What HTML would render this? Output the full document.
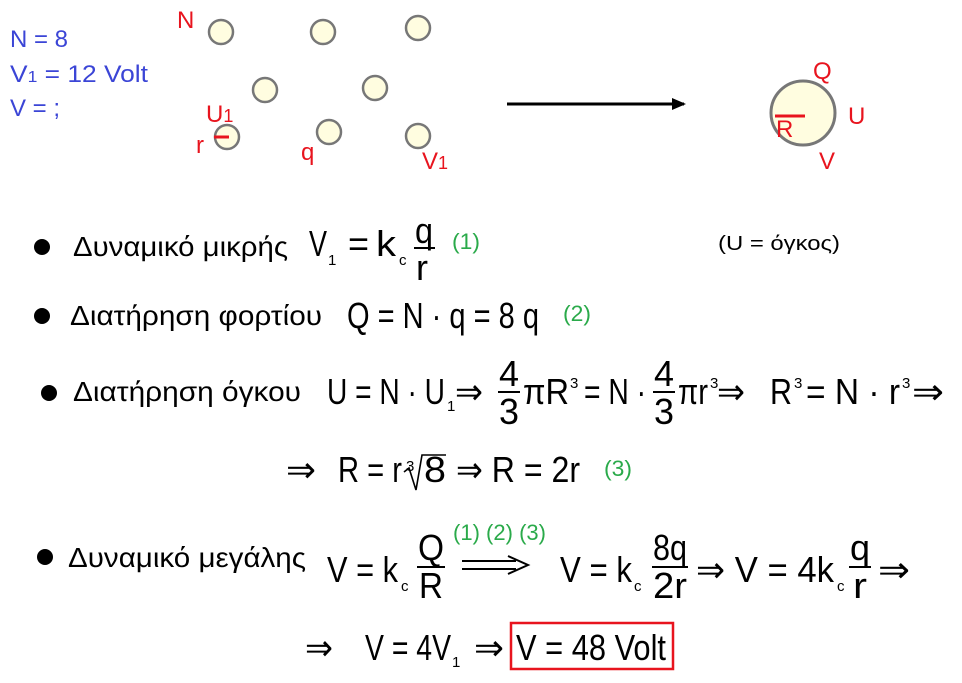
<!DOCTYPE html>
<html><head><meta charset="utf-8"><style>
html,body{margin:0;padding:0;background:#fff;}
svg{display:block;}
text{font-family:"Liberation Sans",sans-serif;}
.b{fill:#3b45d6;font-size:24px;}
.r{fill:#e8141e;font-size:24px;}
.t{fill:#000;font-size:28px;}
.m{fill:#000;font-size:36px;}
.s{fill:#000;font-size:15px;}
.g{fill:#2aaa4a;font-size:22px;}
</style></head><body>
<svg width="962" height="683" viewBox="0 0 962 683" xmlns="http://www.w3.org/2000/svg">
<defs><marker id="ah" markerWidth="14" markerHeight="12" refX="12" refY="6" orient="auto" markerUnits="userSpaceOnUse"><path d="M0,0 L14,6 L0,12 z" fill="#000"/></marker></defs>
<text class="b" x="10" y="47">N = 8</text>
<text class="b" x="10" y="82" textLength="138" lengthAdjust="spacingAndGlyphs">V<tspan font-size="16">1</tspan> = 12 Volt</text>
<text class="b" x="10" y="116">V = ;</text>
<g fill="#fffde0" stroke="#777" stroke-width="2.5">
<circle cx="221" cy="32" r="12"/><circle cx="323" cy="32" r="12"/><circle cx="418" cy="28" r="12"/>
<circle cx="265" cy="90" r="12"/><circle cx="375" cy="88" r="12"/>
<circle cx="227" cy="137" r="12"/><circle cx="329" cy="132" r="12"/><circle cx="418" cy="136" r="12"/>
<circle cx="803" cy="113" r="32" stroke-width="3"/>
</g>
<line x1="214" y1="137" x2="229" y2="137" stroke="#e8141e" stroke-width="3"/>
<line x1="775" y1="116" x2="805" y2="116" stroke="#e8141e" stroke-width="3"/>
<text class="r" x="177" y="28">N</text>
<text class="r" x="206" y="122">U<tspan font-size="18">1</tspan></text>
<text class="r" x="196" y="153">r</text>
<text class="r" x="301" y="160">q</text>
<text class="r" x="422" y="169">V<tspan font-size="18">1</tspan></text>
<text class="r" x="813" y="79">Q</text>
<text class="r" x="848" y="124">U</text>
<text class="r" x="819" y="169">V</text>
<text class="r" x="776" y="137">R</text>
<line x1="507" y1="104" x2="684" y2="104" stroke="#000" stroke-width="3" marker-end="url(#ah)"/>

<circle cx="42" cy="247" r="8"/>
<text class="t" x="73" y="256" textLength="215" lengthAdjust="spacingAndGlyphs">Δυναμικό μικρής</text>
<text class="m" x="309" y="256" textLength="18" lengthAdjust="spacingAndGlyphs">V</text><text class="s" x="328" y="265">1</text>
<text class="m" x="348" y="256" textLength="21" lengthAdjust="spacingAndGlyphs">=</text><text class="m" x="376" y="256" textLength="20" lengthAdjust="spacingAndGlyphs">k</text><text class="s" x="399" y="265">c</text>
<text class="m" x="415" y="243" textLength="18" lengthAdjust="spacingAndGlyphs">q</text><line x1="414" y1="248" x2="435" y2="248" stroke="#000" stroke-width="2"/><text class="m" x="416" y="280" textLength="12" lengthAdjust="spacingAndGlyphs">r</text>
<text class="g" x="452" y="249" textLength="28" lengthAdjust="spacingAndGlyphs">(1)</text>
<text fill="#000" font-size="20" x="718" y="250" textLength="122" lengthAdjust="spacingAndGlyphs">(U = όγκος)</text>

<circle cx="42" cy="316" r="8"/>
<text class="t" x="70" y="325" textLength="252" lengthAdjust="spacingAndGlyphs">Διατήρηση φορτίου</text>
<text class="m" x="347" y="328" textLength="192" lengthAdjust="spacingAndGlyphs">Q = N · q = 8 q</text>
<text class="g" x="563" y="321" textLength="28" lengthAdjust="spacingAndGlyphs">(2)</text>

<circle cx="49" cy="393" r="8"/>
<text class="t" x="73" y="401" textLength="228" lengthAdjust="spacingAndGlyphs">Διατήρηση όγκου</text>
<text class="m" x="327" y="404" textLength="118" lengthAdjust="spacingAndGlyphs">U = N · U</text>
<text class="s" x="447" y="411">1</text>
<text class="m" x="455" y="404" textLength="28" lengthAdjust="spacingAndGlyphs">⇒</text>
<text class="m" x="499" y="386" textLength="20" lengthAdjust="spacingAndGlyphs">4</text><line x1="498" y1="392" x2="520" y2="392" stroke="#000" stroke-width="2"/><text class="m" x="499" y="424" textLength="20" lengthAdjust="spacingAndGlyphs">3</text>
<text class="m" x="523" y="404" textLength="46" lengthAdjust="spacingAndGlyphs">πR</text>
<text class="s" x="570" y="388">3</text>
<text class="m" x="584" y="404" textLength="62" lengthAdjust="spacingAndGlyphs">= N ·</text>
<text class="m" x="654" y="386" textLength="20" lengthAdjust="spacingAndGlyphs">4</text><line x1="653" y1="392" x2="675" y2="392" stroke="#000" stroke-width="2"/><text class="m" x="654" y="424" textLength="20" lengthAdjust="spacingAndGlyphs">3</text>
<text class="m" x="678" y="404" textLength="30" lengthAdjust="spacingAndGlyphs">πr</text>
<text class="s" x="710" y="388">3</text>
<text class="m" x="717" y="404" textLength="28" lengthAdjust="spacingAndGlyphs">⇒</text>
<text class="m" x="770" y="404" textLength="22" lengthAdjust="spacingAndGlyphs">R</text>
<text class="s" x="794" y="388">3</text>
<text class="m" x="806" y="404" textLength="94" lengthAdjust="spacingAndGlyphs">= N · r</text>
<text class="s" x="902" y="388">3</text>
<text class="m" x="912" y="404" textLength="32" lengthAdjust="spacingAndGlyphs">⇒</text>

<text class="m" x="286" y="482" textLength="30" lengthAdjust="spacingAndGlyphs">⇒</text>
<text class="m" x="338" y="482" textLength="64" lengthAdjust="spacingAndGlyphs">R = r</text>
<text class="s" x="406" y="471">3</text>
<path d="M404,472 L409,468 L416,490 L422,455 L446,455" fill="none" stroke="#000" stroke-width="1.6"/>
<text class="m" x="424" y="482" textLength="22" lengthAdjust="spacingAndGlyphs">8</text>
<text class="m" x="456" y="482" textLength="124" lengthAdjust="spacingAndGlyphs">⇒ R = 2r</text>
<text class="g" x="604" y="476" textLength="28" lengthAdjust="spacingAndGlyphs">(3)</text>

<circle cx="45" cy="557" r="8"/>
<text class="t" x="68" y="567" textLength="238" lengthAdjust="spacingAndGlyphs">Δυναμικό μεγάλης</text>
<text class="m" x="327" y="582" textLength="71" lengthAdjust="spacingAndGlyphs">V = k</text>
<text class="s" x="401" y="591">c</text>
<text class="m" x="418" y="560" textLength="26" lengthAdjust="spacingAndGlyphs">Q</text><line x1="417" y1="567" x2="445" y2="567" stroke="#000" stroke-width="2"/><text class="m" x="419" y="598" textLength="24" lengthAdjust="spacingAndGlyphs">R</text>
<text class="g" x="453" y="540" textLength="93" lengthAdjust="spacingAndGlyphs">(1) (2) (3)</text>
<line x1="462" y1="561" x2="516" y2="561" stroke="#000" stroke-width="2"/><line x1="462" y1="569" x2="516" y2="569" stroke="#000" stroke-width="2"/>
<path d="M508,556 L528,565 L508,574" fill="none" stroke="#000" stroke-width="2"/>
<text class="m" x="560" y="582" textLength="72" lengthAdjust="spacingAndGlyphs">V = k</text>
<text class="s" x="634" y="591">c</text>
<text class="m" x="653" y="560" textLength="34" lengthAdjust="spacingAndGlyphs">8q</text><line x1="652" y1="567" x2="688" y2="567" stroke="#000" stroke-width="2"/><text class="m" x="653" y="598" textLength="34" lengthAdjust="spacingAndGlyphs">2r</text>
<text class="m" x="696" y="582" textLength="138" lengthAdjust="spacingAndGlyphs">⇒ V = 4k</text>
<text class="s" x="837" y="591">c</text>
<text class="m" x="850" y="560" textLength="20" lengthAdjust="spacingAndGlyphs">q</text><line x1="849" y1="567" x2="871" y2="567" stroke="#000" stroke-width="2"/><text class="m" x="853" y="598" textLength="14" lengthAdjust="spacingAndGlyphs">r</text>
<text class="m" x="878" y="582" textLength="32" lengthAdjust="spacingAndGlyphs">⇒</text>

<text class="m" x="305" y="660" textLength="28" lengthAdjust="spacingAndGlyphs">⇒</text>
<text class="m" x="365" y="660" textLength="86" lengthAdjust="spacingAndGlyphs">V = 4V</text>
<text class="s" x="452" y="667">1</text>
<text class="m" x="474" y="660" textLength="30" lengthAdjust="spacingAndGlyphs">⇒</text>
<rect x="511" y="623" width="162" height="46" fill="none" stroke="#e8141e" stroke-width="2.5"/>
<text class="m" x="516" y="660" textLength="150" lengthAdjust="spacingAndGlyphs">V = 48 Volt</text>
</svg>
</body></html>
